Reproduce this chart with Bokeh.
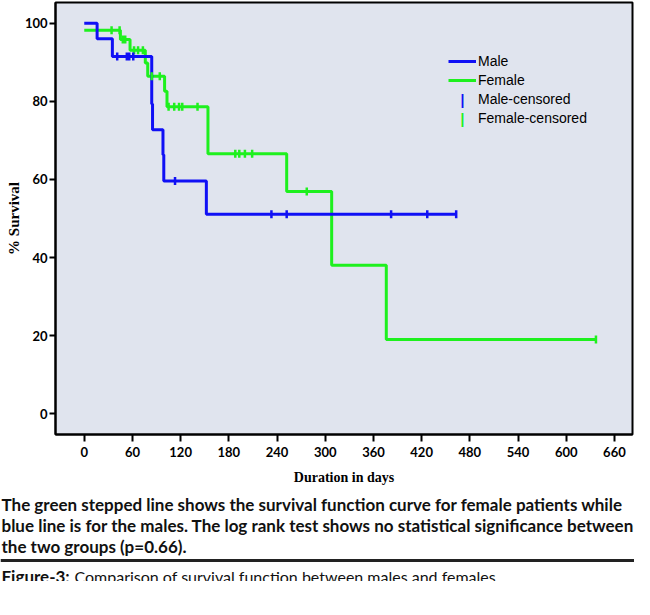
import math
from bokeh.plotting import figure
from bokeh.models import Range1d, Legend, LegendItem, FixedTicker, Label
from bokeh.embed import file_html
from bokeh.resources import INLINE
from bokeh.core.properties import value

# ---------------- data ----------------
male_days = [0, 16, 35, 84, 85, 98, 99, 152, 463]
male_surv = [100.0, 96.0, 91.5, 79.3, 72.7, 66.3, 59.6, 51.1, 51.1]
male_cens_days = [41, 53, 56, 61, 113, 233, 252, 382, 427, 463]
male_cens_surv = [91.5, 91.5, 91.5, 91.5, 59.6, 51.1, 51.1, 51.1, 51.1, 51.1]

female_days = [0, 45, 57, 76, 79, 100, 103, 154, 252, 308, 376, 637]
female_surv = [98.2, 95.8, 93.1, 89.8, 86.4, 82.6, 78.6, 66.6, 56.9, 38.0, 19.0, 19.0]
female_cens_days = [34, 44, 48, 51, 62, 67, 73, 84, 94, 105, 112, 118, 122, 141,
                    188, 193, 200, 209, 277, 637]
female_cens_surv = [98.2, 98.2, 95.8, 95.8, 93.1, 93.1, 93.1, 86.4, 86.4,
                    78.6, 78.6, 78.6, 78.6, 78.6, 66.6, 66.6, 66.6, 66.6, 56.9, 19.0]

x_ticks = [0, 60, 120, 180, 240, 300, 360, 420, 480, 540, 600, 660]
y_ticks = [0, 20, 40, 60, 80, 100]

legend_labels = ["Male", "Female", "Male-censored", "Female-censored"]
x_title = "Duration in days"
y_title = "% Survival"
caption_lines = [
    "The green stepped line shows the survival function curve for female patients while",
    "blue line is for the males. The log rank test shows no statistical significance between",
    "the two groups (p=0.66).",
]
fig_label = "Figure-3:"
fig_text = "Comparison of survival function between males and females."

# ---------------- styles ----------------
BLUE = "#1010f5"
GREEN = "#1ef01e"
SANS = "Lato"
SERIF = "Liberation Serif"
INK = "#111111"

p = figure(width=634, height=490, output_backend="svg", toolbar_location=None,
           x_range=Range1d(-35.8, 682.5), y_range=Range1d(-5.3, 105.3),
           min_border_left=55, min_border_right=2, min_border_top=2, min_border_bottom=56)
p.background_fill_color = "#e0e4ee"
p.border_fill_color = "white"
p.outline_line_color = "black"
p.outline_line_width = 2
p.grid.visible = False

for ax in (p.xaxis[0], p.yaxis[0]):
    ax.axis_line_width = 2
    ax.axis_line_color = "black"
    ax.major_tick_line_width = 2
    ax.major_tick_line_color = "black"
    ax.major_tick_out = 7
    ax.major_tick_in = 0
    ax.minor_tick_line_color = None
    ax.major_label_text_font = SANS
    ax.major_label_text_font_style = "bold"
    ax.major_label_text_font_size = "13px"
    ax.major_label_text_color = "black"
    ax.axis_label_text_font = SERIF
    ax.axis_label_text_font_style = "bold"
    ax.axis_label_text_color = "black"

p.xaxis.ticker = FixedTicker(ticks=x_ticks)
p.yaxis.ticker = FixedTicker(ticks=y_ticks)
p.xaxis.axis_label = x_title
p.yaxis.axis_label = y_title
p.xaxis.axis_label_text_font_size = "14px"
p.yaxis.axis_label_text_font_size = "15px"
p.yaxis.major_tick_out = 6
p.xaxis.major_label_standoff = 5
p.yaxis.major_label_standoff = 2
p.xaxis.axis_label_standoff = 10
p.yaxis.axis_label_standoff = 0

r_f = p.step(female_days, female_surv, mode="after", line_color=GREEN, line_width=3)
r_m = p.step(male_days, male_surv, mode="after", line_color=BLUE, line_width=3)
p.scatter(female_cens_days, female_cens_surv, marker="dash", angle=math.pi / 2,
          size=8, line_color=GREEN, line_width=2.5)
p.scatter(male_cens_days, male_cens_surv, marker="dash", angle=math.pi / 2,
          size=8, line_color=BLUE, line_width=2.5)
# legend-only placeholders (their vertical icons are drawn as labels below)
r_mc_leg = p.scatter([], [], marker="dash", line_alpha=0, fill_alpha=0)
r_fc_leg = p.scatter([], [], marker="dash", line_alpha=0, fill_alpha=0)

legend = Legend(items=[LegendItem(label=legend_labels[0], renderers=[r_m]),
                       LegendItem(label=legend_labels[1], renderers=[r_f]),
                       LegendItem(label=legend_labels[2], renderers=[r_mc_leg]),
                       LegendItem(label=legend_labels[3], renderers=[r_fc_leg])],
                location=(393, 307), orientation="vertical")
legend.background_fill_alpha = 0
legend.border_line_color = None
legend.padding = 0
legend.margin = 0
legend.spacing = 1
legend.glyph_width = 28
legend.glyph_height = 18
legend.label_height = 18
legend.label_standoff = 2
legend.label_text_font = "Liberation Sans"
legend.label_text_font_size = "14px"
legend.label_text_color = "black"
p.add_layout(legend)

for txt_color, yy in ((BLUE, 335), (GREEN, 316)):
    p.add_layout(Label(x=407, y=yy, x_units="screen", y_units="screen", text="|",
                       text_color=txt_color, text_font="Liberation Sans",
                       text_font_style="bold", text_font_size="14px",
                       text_align="center", text_baseline="middle"))

# ---------------- caption panel (separate root so it spans the full width) ----------------
p2 = figure(width=634, height=91, output_backend="svg", toolbar_location=None,
            x_range=Range1d(0, 634), y_range=Range1d(91, 0), min_border=0,
            x_axis_type=None, y_axis_type=None)
p2.grid.visible = False
p2.outline_line_color = None
p2.background_fill_color = "white"
p2.border_fill_color = "white"

p2.text(x=[1, 1, 1], y=[14, 35, 56], text=caption_lines,
        text_font=value(SANS), text_font_style="bold", text_font_size="17px",
        text_baseline="alphabetic", text_align="left", text_color=INK)
p2.segment(x0=[0], y0=[70], x1=[634], y1=[70], line_color="#222222", line_width=3)
p2.text(x=[1], y=[86], text=[fig_label],
        text_font=value(SANS), text_font_style="bold", text_font_size="17px",
        text_baseline="alphabetic", text_align="left", text_color=INK)
p2.text(x=[74], y=[86], text=[fig_text],
        text_font=value(SANS), text_font_style="normal", text_font_size="16px",
        text_baseline="alphabetic", text_align="left", text_color=INK)

open("out.html", "w").write(file_html([p, p2], INLINE))
